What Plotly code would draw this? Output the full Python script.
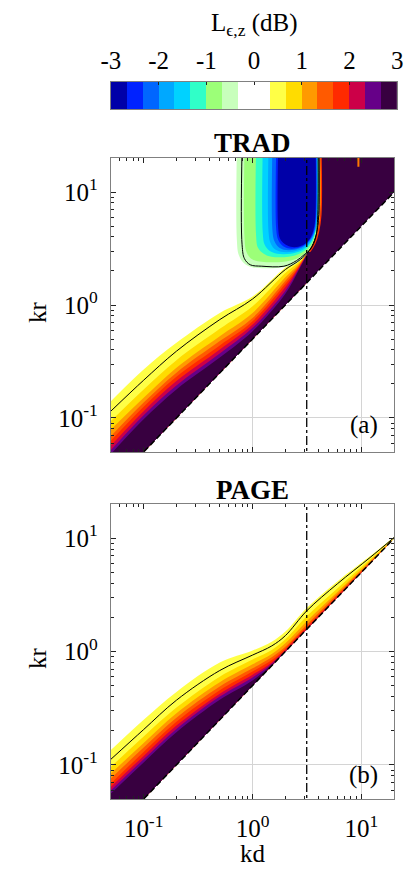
import math
import plotly.graph_objects as go

FONT = "Liberation Serif"

# ---------------- colour scale (dB), 18 bins of 1/3 dB ----------------
bin_edges = [-3.0, -2.667, -2.333, -2.0, -1.667, -1.333, -1.0, -0.667, -0.333, 0.0,
             0.333, 0.667, 1.0, 1.333, 1.667, 2.0, 2.333, 2.667, 3.0]
bin_colors = ["#0000A8", "#0022FF", "#0066FF", "#00A8FF", "#00D2FF", "#30FFC8",
              "#9CFF78", "#C8FFBC", "#FFFFFF", "#FFFFFF", "#FFFF46", "#FFDC00",
              "#FF9A00", "#FF5A00", "#FF2A00", "#CC0048", "#660088", "#380040"]
cbar_ticks = [-3, -2, -1, 0, 1, 2, 3]
cbar_ticktext = ["-3", "-2", "-1", "0", "1", "2", "3"]

# ---------------- axes ----------------
log_ticks = [0.1, 1, 10]
log_ticktext = ["10<sup>-1</sup>", "10<sup>0</sup>", "10<sup>1</sup>"]
minor_ticks = [0.05, 0.06, 0.07, 0.08, 0.09, 0.2, 0.3, 0.4, 0.5, 0.6, 0.7, 0.8, 0.9,
               2, 3, 4, 5, 6, 7, 8, 9, 20]
kd_limits = [0.05, 20]
kr_limits = [0.05, 20]

# diagonal kr = kd/2 (edge of the valid region) and kd = pi marker
diag_kd = [0.04, 25.0]
diag_kr = [0.02, 12.5]
kd_pi = 3.1416

# ---------------- (a) TRAD : positive lobe near the diagonal ----------------
a_low_kd = [0.05, 0.1, 0.2, 0.5, 1.0, 2.0, 2.6, 3.14]
a_low_diag_kr = [0.025, 0.05, 0.1, 0.25, 0.5, 1.0, 1.3, 1.57]
a_low_levels = [0.333, 0.667, 1.0, 1.333, 1.667, 2.0, 2.333, 2.667]
a_low_kr = [
    [0.141, 0.269, 0.463, 0.851, 1.19, 2.15, 2.52, 2.85],
    [0.094, 0.179, 0.325, 0.615, 0.975, 1.92, 2.35, 2.83],
    [0.079, 0.151, 0.279, 0.530, 0.851, 1.76, 2.26, 2.82],
    [0.069, 0.137, 0.252, 0.479, 0.769, 1.64, 2.18, 2.81],
    [0.063, 0.126, 0.232, 0.439, 0.719, 1.54, 2.12, 2.80],
    [0.057, 0.115, 0.212, 0.404, 0.671, 1.44, 2.07, 2.79],
    [0.052, 0.106, 0.194, 0.372, 0.628, 1.34, 2.01, 2.78],
    [0.048, 0.0975, 0.179, 0.343, 0.586, 1.26, 1.96, 2.77],
]
a_black_low_kd = [0.05, 0.1, 0.2, 0.5, 1.0, 2.0, 2.6, 3.14, 3.5, 3.87, 4.05, 4.06]
a_black_low_kr = [0.115, 0.216, 0.390, 0.743, 1.13, 2.06, 2.43, 2.84, 3.3, 4.3, 6.3, 25]

# right-hand saturated region (above +3 dB)
a_right_kd = [3.14, 3.224, 3.569, 3.870, 4.072, 4.072, 25, 25, 3.14]
a_right_kr = [2.85, 2.96, 3.48, 4.45, 6.28, 25, 25, 12.5, 1.57]

# ---------------- (a) TRAD : negative (U-shaped) region ----------------
a_u_levels = [-0.333, -0.667, -1.0, -1.333, -1.667, -2.0, -2.333, -2.667]
a_u_kd = [
    [0.717, 0.717, 0.746, 0.826, 0.992, 1.752, 2.377, 2.854, 3.224, 3.569, 3.870, 4.072, 4.072],
    [0.843, 0.843, 0.878, 0.972, 1.215, 1.940, 2.526, 2.972, 3.357, 3.716, 3.950, 4.031],
    [1.076, 1.076, 1.121, 1.266, 1.489, 2.147, 2.685, 3.159, 3.497, 3.793, 3.990, 3.990],
    [1.240, 1.240, 1.292, 1.430, 1.682, 2.236, 2.797, 3.224, 3.569, 3.831, 3.950, 3.950],
    [1.401, 1.401, 1.459, 1.582, 1.825, 2.328, 2.854, 3.290, 3.606, 3.831, 3.910],
    [1.520, 1.520, 1.582, 1.717, 1.940, 2.425, 2.912, 3.290, 3.642, 3.831, 3.870],
    [1.649, 1.649, 1.717, 1.863, 2.104, 2.526, 2.972, 3.357, 3.642, 3.793, 3.831],
    [1.717, 1.717, 1.788, 1.960, 2.236, 2.631, 3.033, 3.357, 3.606, 3.755, 3.793],
]
a_u_kr = [
    [25, 3.78, 2.785, 2.37, 2.16, 2.14, 2.27, 2.568, 2.96, 3.48, 4.45, 6.28, 25],
    [25, 3.935, 2.96, 2.568, 2.416, 2.416, 2.568, 2.842, 3.211, 3.935, 5.45, 25],
    [25, 4.18, 3.211, 2.842, 2.674, 2.674, 2.842, 3.147, 3.55, 4.45, 6.28, 25],
    [25, 4.36, 3.41, 3.021, 2.842, 2.842, 3.021, 3.345, 3.86, 4.82, 6.67, 25],
    [25, 4.45, 3.55, 3.147, 2.96, 2.96, 3.147, 3.48, 4.02, 5.02, 25],
    [25, 4.63, 3.70, 3.278, 3.083, 3.083, 3.278, 3.63, 4.27, 5.45, 25],
    [25, 4.63, 3.78, 3.38, 3.18, 3.18, 3.38, 3.78, 4.45, 5.67, 25],
    [25, 4.82, 3.86, 3.48, 3.278, 3.278, 3.48, 3.86, 4.54, 5.67, 25],
]
a_black_u_kd = [0.801, 0.801, 0.843, 0.952, 1.215, 1.940, 2.526, 2.972, 3.426, 3.793, 3.950, 3.990]
a_black_u_kr = [25, 3.41, 2.568, 2.27, 2.205, 2.205, 2.466, 2.785, 3.147, 3.935, 5.67, 25]

# thin transition strips at the right of the negative region
a_orange_kd = [3.29, 3.64, 3.95, 4.155, 4.155]
a_orange_kr = [2.96, 3.48, 4.45, 6.28, 25]
a_red_kd = [3.36, 3.72, 4.03, 4.24, 4.24]
a_red_kr = [2.96, 3.48, 4.45, 6.28, 25]
a_spike_kd = [9.37, 9.37]
a_spike_kr = [25, 16.7]

# ---------------- (b) PAGE ----------------
b_kd = [0.05, 0.1, 0.2, 0.5, 1.0, 1.5, 2.0, 3.14, 6.0, 12.0, 20.0]
b_diag_kr = [0.025, 0.05, 0.1, 0.25, 0.5, 0.75, 1.0, 1.57, 3.0, 6.0, 10.0]
b_levels = [0.333, 0.667, 1.0, 1.333, 1.667, 2.0, 2.333, 2.667]
b_kr = [
    [0.135, 0.25, 0.44, 0.80, 1.02, 1.22, 1.50, 2.42, 4.15, 6.95, 10.3],
    [0.096, 0.178, 0.32, 0.60, 0.85, 1.03, 1.28, 2.05, 3.6, 6.5, 10.05],
    [0.084, 0.156, 0.285, 0.535, 0.77, 0.95, 1.18, 1.85, 3.35, 6.3, 10.0],
    [0.076, 0.142, 0.26, 0.49, 0.71, 0.89, 1.10, 1.72, 3.2, 6.15, 10.0],
    [0.0685, 0.13, 0.24, 0.455, 0.665, 0.84, 1.06, 1.65, 3.1, 6.07, 10.0],
    [0.064, 0.12, 0.222, 0.425, 0.625, 0.80, 1.03, 1.60, 3.05, 6.03, 10.0],
    [0.0597, 0.112, 0.207, 0.40, 0.59, 0.775, 1.01, 1.575, 3.0, 6.0, 10.0],
    [0.0558, 0.105, 0.194, 0.375, 0.555, 0.76, 1.0, 1.57, 3.0, 6.0, 10.0],
]
b_black_kr = [0.112, 0.205, 0.372, 0.68, 0.93, 1.12, 1.38, 2.28, 3.95, 6.75, 10.15]

# ---------------- figure ----------------
W, H = 407, 870
fig = go.Figure()


def color_above(level):
    return bin_colors[bin_edges.index(level)]


def color_below(level):
    return bin_colors[bin_edges.index(level) - 1]


def poly(xs, ys, color, ax, shape="linear"):
    fig.add_trace(go.Scatter(x=xs, y=ys, mode="lines", fill="toself", fillcolor=color,
                             line=dict(width=0, color=color, shape=shape, smoothing=1),
                             hoverinfo="skip", showlegend=False,
                             xaxis="x" + ax, yaxis="y" + ax))


def band(xs, ys, base_x, base_y, color, ax):
    # invisible base (the kr = kd/2 edge), then the smoothed boundary filled down to it
    fig.add_trace(go.Scatter(x=base_x, y=base_y, mode="lines", line=dict(width=0),
                             hoverinfo="skip", showlegend=False,
                             xaxis="x" + ax, yaxis="y" + ax))
    fig.add_trace(go.Scatter(x=xs, y=ys, mode="lines", fill="tonexty", fillcolor=color,
                             line=dict(width=0, color=color, shape="spline", smoothing=1),
                             hoverinfo="skip", showlegend=False,
                             xaxis="x" + ax, yaxis="y" + ax))


def line(xs, ys, color, width, ax, dash="solid", shape="spline"):
    fig.add_trace(go.Scatter(x=xs, y=ys, mode="lines",
                             line=dict(width=width, color=color, dash=dash,
                                       shape=shape, smoothing=1),
                             hoverinfo="skip", showlegend=False,
                             xaxis="x" + ax, yaxis="y" + ax))


# ---- panel (a)
poly([diag_kd[0], diag_kd[1], diag_kd[1], diag_kd[0]],
     [diag_kr[0], diag_kr[1], 25, 25], "#FFFFFF", "")
for lev, krs in zip(a_low_levels, a_low_kr):
    band(a_low_kd, krs, a_low_kd, a_low_diag_kr, color_above(lev), "")
poly(a_right_kd, a_right_kr, bin_colors[-1], "")
for lev, kds, krs in zip(a_u_levels, a_u_kd, a_u_kr):
    poly(kds, krs, color_below(lev), "", shape="spline")
line(a_orange_kd, a_orange_kr, "#FF9A00", 1.3, "")
line(a_red_kd, a_red_kr, "#FF3000", 1.3, "")
line(a_spike_kd, a_spike_kr, "#FF7A00", 2, "", shape="linear")
line(a_black_low_kd, a_black_low_kr, "#000000", 1, "")
line(a_black_u_kd, a_black_u_kr, "#000000", 1, "")
line(diag_kd, diag_kr, "#000000", 1.5, "", dash="6px,3px", shape="linear")
line([kd_pi, kd_pi], [0.04, 25], "#000000", 1.3, "", dash="dashdot", shape="linear")

# ---- panel (b)
poly([diag_kd[0], diag_kd[1], diag_kd[1], diag_kd[0]],
     [diag_kr[0], diag_kr[1], 25, 25], "#FFFFFF", "2")
for lev, krs in zip(b_levels, b_kr):
    band(b_kd, krs, b_kd, b_diag_kr, color_above(lev), "2")
line(b_kd, b_black_kr, "#000000", 1, "2")
line(diag_kd, diag_kr, "#000000", 1.5, "2", dash="6px,3px", shape="linear")
line([kd_pi, kd_pi], [0.04, 25], "#000000", 1.3, "2", dash="dashdot", shape="linear")

# ---- colour bar (drawn as its own heatmap strip)
n = len(bin_colors)
cb_z = [list(range(n))]
cb_scale = []
for i, c in enumerate(bin_colors):
    cb_scale.append([i / n, c])
    cb_scale.append([(i + 1) / n, c])
fig.add_trace(go.Heatmap(z=cb_z, x=bin_edges, y=[0, 1], colorscale=cb_scale,
                         zmin=-0.5, zmax=n - 0.5, showscale=False, hoverinfo="skip",
                         xaxis="x3", yaxis="y3"))

# ---------------- layout ----------------
xdom = [105 / W, 400 / W]
a_dom = [1 - 452 / H, 1 - 158 / H]
b_dom = [1 - 799 / H, 1 - 504 / H]
cb_dom_x = [105 / W, 403 / W]
cb_dom_y = [1 - 109 / H, 1 - 82 / H]

tickfont = dict(family=FONT, size=25, color="#000000")
logrange = [math.log10(kd_limits[0]), math.log10(kd_limits[1])]
logrange_y = [math.log10(kr_limits[0]), math.log10(kr_limits[1])]


def logaxis(domain, anchor, show_labels, rng, standoff):
    return dict(type="log", domain=domain, anchor=anchor, range=rng,
                tickmode="array", tickvals=log_ticks, ticktext=log_ticktext,
                showticklabels=show_labels, tickfont=tickfont, ticklabelstandoff=standoff,
                ticks="inside", ticklen=5, tickwidth=1, tickcolor="#222222",
                minor=dict(tickmode="array", tickvals=minor_ticks, ticks="inside",
                           ticklen=3, tickcolor="#222222", showgrid=False),
                showgrid=True, gridcolor="#D4D4D4", gridwidth=1,
                showline=True, linecolor="#808080", linewidth=1, mirror="allticks",
                zeroline=False)


fig.update_layout(
    width=W, height=H, autosize=False,
    margin=dict(l=0, r=0, t=0, b=0),
    paper_bgcolor="#FFFFFF", plot_bgcolor="#FFFFFF",
    font=dict(family=FONT, color="#000000"),
    xaxis=logaxis(xdom, "y", False, logrange, 0),
    yaxis=logaxis(a_dom, "x", True, logrange_y, 7),
    xaxis2=logaxis(xdom, "y2", True, logrange, 7),
    yaxis2=logaxis(b_dom, "x2", True, logrange_y, 7),
    xaxis3=dict(domain=cb_dom_x, anchor="y3", range=[-3, 3], side="top",
                tickmode="array", tickvals=cbar_ticks, ticktext=cbar_ticktext,
                tickfont=tickfont, ticks="inside", ticklen=3, tickcolor="#222222",
                ticklabeloverflow="allow", ticklabelstandoff=2,
                showline=True, linecolor="#808080", mirror=True, showgrid=False,
                zeroline=False),
    yaxis3=dict(domain=cb_dom_y, anchor="x3", range=[0, 1], showticklabels=False,
                ticks="", showline=True, linecolor="#808080", mirror=True,
                showgrid=False, zeroline=False),
    showlegend=False,
)

ann = [
    dict(text="L<sub>ϵ,z</sub> (dB)", x=254 / W, y=1 - 24 / H, size=25),
    dict(text="<b>TRAD</b>", x=252.5 / W, y=1 - 143 / H, size=27),
    dict(text="<b>PAGE</b>", x=252.5 / W, y=1 - 490 / H, size=27),
    dict(text="(a)", x=368 / W, y=1 - 425 / H, size=25),
    dict(text="(b)", x=368 / W, y=1 - 775 / H, size=25),
    dict(text="kd", x=252.5 / W, y=1 - 853 / H, size=25),
]
for a in ann:
    fig.add_annotation(text=a["text"], x=a["x"], y=a["y"], xref="paper", yref="paper",
                       showarrow=False, xanchor="center", yanchor="middle",
                       font=dict(family=FONT, size=a["size"], color="#000000"))
for yc in (312, 658):
    fig.add_annotation(text="kr", x=28 / W, y=1 - yc / H, xref="paper", yref="paper",
                       showarrow=False, textangle=-90, xanchor="center", yanchor="middle",
                       font=dict(family=FONT, size=25, color="#000000"))

fig.write_html("out.html")
